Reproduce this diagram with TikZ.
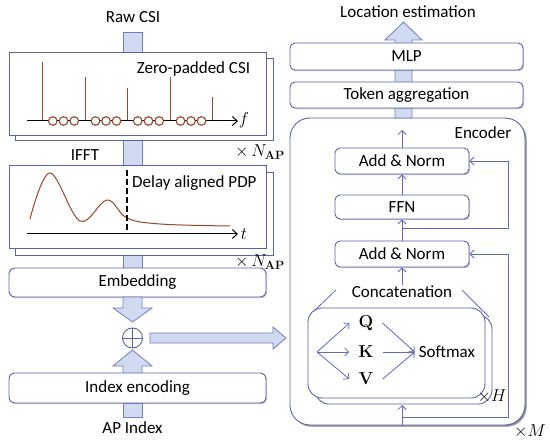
\documentclass[tikz,border=0pt]{standalone}
\usepackage[no-math]{fontspec}
\setmainfont{Carlito}
\usetikzlibrary{arrows.meta,shadows,calc}
\definecolor{bcol}{RGB}{92,98,170}
\definecolor{lcol}{RGB}{98,104,196}
\definecolor{fcol}{RGB}{208,219,241}
\definecolor{fatb}{RGB}{112,126,190}
\definecolor{brn}{RGB}{150,72,42}
\tikzset{
  box/.style={draw=bcol, line width=0.9pt, fill=white, rounded corners=6pt, inner sep=0pt,
    drop shadow={shadow xshift=1.2pt, shadow yshift=-1.2pt, opacity=0.35, fill=black!60}},
  sbox/.style={draw=bcol, line width=0.9pt, fill=white, inner sep=0pt},
  fat/.style={draw=fatb, fill=fcol, line width=0.8pt, line join=miter},
  arr/.style={draw=lcol, line width=0.8pt, -{Straight Barb[length=4pt,width=8pt]}},
  thin/.style={draw=lcol, line width=0.8pt},
  axis/.style={draw=black, line width=1pt, -{Straight Barb[length=5pt,width=9pt]}},
  stem/.style={draw=brn, line width=1pt},
  lbl/.style={inner sep=1pt},
}
\begin{document}
\begin{tikzpicture}[x=1pt,y=-1pt,font=\fontsize{17}{20}\selectfont]
\useasboundingbox (0,0) rectangle (550,444);

% ---------------- left column ----------------
\node[lbl] (raw) at (133,17) {Raw CSI};
\draw[fat] (123,32) rectangle (142,268);

% zero-padded CSI stack
\node[sbox, minimum width=258pt, minimum height=82pt] (zb) at (144,99) {};
\node[sbox, minimum width=257pt, minimum height=83pt] (zf) at (137.5,93.5) {};
\node[lbl] (zlab) at (193.5,69) {Zero-padded CSI};
\foreach \x/\t in {42/62,85/77,127/88,170/77,212/97} \draw[stem] (\x,121) -- (\x,\t);
\draw[axis] (27,121) -- (238,121);
\foreach \a/\b in {42/85,85/127,127/170,170/212}
  \foreach \k in {1,2,3}
    \draw[brn, line width=1.1pt, fill=white] ({\a+\k*(\b-\a)/4},121) circle[radius=4.3];
\node[lbl] (fl) at (244,120) {$f$};
\node[lbl] (nap1) at (260,152) {$\times\, N_{\mathbf{AP}}$};
\node[lbl] (ifft) at (85,155) {IFFT};

% PDP stack
\node[sbox, minimum width=258pt, minimum height=83pt] (pb) at (144,213.5) {};
\node[sbox, minimum width=257pt, minimum height=83pt] (pf) at (137.5,206.5) {};
\draw[brn, line width=1pt] plot[smooth, tension=0.6] coordinates {(30,219) (50,173) (80,221) (107,200) (127,218) (160,224) (230,226)};
\draw[black, line width=1.6pt, dash pattern=on 6pt off 3pt] (127,170) -- (127,234);
\draw[axis] (27,234) -- (238,234);
\node[lbl] (tl) at (244,234) {$t$};
\node[lbl, anchor=west] (plab) at (131,183) {Delay aligned PDP};
\node[lbl] (nap2) at (260,262) {$\times\, N_{\mathbf{AP}}$};

% embedding, plus, index encoding
\node[box, minimum width=257pt, minimum height=29pt] (emb) at (137.5,282.5) {Embedding};
\draw[fat] (123,297) -- (123,308) -- (113,308) -- (132.5,322) -- (152,308) -- (142,308) -- (142,297) -- cycle;
\node[circle, draw=bcol, line width=0.9pt, minimum size=20pt, inner sep=0pt] (plus) at (132.5,338) {};
\draw[bcol, line width=0.9pt] (plus.north) -- (plus.south) (plus.west) -- (plus.east);
\draw[fat] (123,374) -- (123,366) -- (113,366) -- (132.5,350) -- (152,366) -- (142,366) -- (142,374) -- cycle;
\node[box, minimum width=257pt, minimum height=30pt] (idx) at (137.5,388) {Index encoding};
\draw[fat] (123,403) rectangle (142,417);
\node[lbl] (api) at (132.5,428) {AP Index};
\draw[fat] (150,333) -- (273,333) -- (273,327) -- (286,338) -- (273,349) -- (273,343) -- (150,343) -- cycle;

% ---------------- right column ----------------
\node[box, rounded corners=20pt, minimum width=235pt, minimum height=307pt,
  drop shadow={shadow xshift=1.8pt, shadow yshift=-1.8pt, opacity=0.45, fill=black!70}] (enc) at (407.5,271.5) {};
\draw[fat] (395,118) -- (395,40) -- (385,40) -- (403.5,22) -- (422,40) -- (412,40) -- (412,118) -- cycle;
\node[lbl] (loc) at (408,12) {Location estimation};
\node[box, rounded corners=5pt, minimum width=233pt, minimum height=27pt] (mlp) at (406.5,56.5) {MLP};
\node[box, rounded corners=5pt, minimum width=233pt, minimum height=26pt] (tok) at (406.5,95) {Token aggregation};
\node[lbl] (enct) at (483,133) {Encoder};

\node[box, rounded corners=5pt, minimum width=134pt, minimum height=26pt] (an2) at (402,161) {Add \& Norm};
\node[box, rounded corners=5pt, minimum width=134pt, minimum height=24pt] (ffn) at (402,207) {FFN};
\node[box, rounded corners=5pt, minimum width=134pt, minimum height=26pt] (an1) at (402,254) {Add \& Norm};
\node[lbl] (cat) at (402,292) {Concatenation};

\coordinate (etop) at (402,130);
\coordinate (s1) at (402,228);
\coordinate (s2) at (402,417);
\coordinate (ein) at (402,425);
\coordinate (rx) at (508,0);
\draw[arr] (an2.north) -- (etop);
\draw[arr] (ffn.north) -- (an2.south);
\draw[arr] (an1.north) -- (ffn.south);
\draw[arr] (cat.north) -- (an1.south);
\draw[arr] (s1) -- (s1 -| rx) |- (an2.east);
\draw[arr] (ein) -- (402,405);
\draw[arr] (s2) -- (s2 -| rx) |- (an1.east);

% multi-head attention
\node[draw=bcol, line width=0.9pt, fill=white, rounded corners=14pt, minimum width=177pt, minimum height=89pt] (ab) at (403.5,359.5) {};
\node[draw=bcol, line width=0.9pt, fill=white, rounded corners=14pt, minimum width=177pt, minimum height=90pt] (af) at (396.5,353) {};
\coordinate (cl) at (336,290);
\coordinate (cr) at (462,290);
\draw[thin] (cl) -- (314,311);
\draw[thin] (cr) -- (489,317);
\node[inner xsep=9pt, inner ysep=2pt] (q) at (366,323) {$\mathbf{Q}$};
\node[inner xsep=9pt, inner ysep=2pt] (k) at (366,352) {$\mathbf{K}$};
\node[inner xsep=9pt, inner ysep=2pt] (v) at (366,379) {$\mathbf{V}$};
\node[inner xsep=4pt] (sm) at (447,352) {Softmax};
\coordinate (sp) at (317,352);
\draw[arr] (sp) -- (q.west);
\draw[arr] (sp) -- (k.west);
\draw[arr] (sp) -- (v.west);
\draw[arr] (q.east) -- (sm.west);
\draw[arr] (k.east) -- (sm.west);
\draw[arr] (v.east) -- (sm.west);
\node[lbl] (xh) at (492,396) {$\times H$};
\node[lbl] (xm) at (530,431) {$\times M$};
\end{tikzpicture}
\end{document}
